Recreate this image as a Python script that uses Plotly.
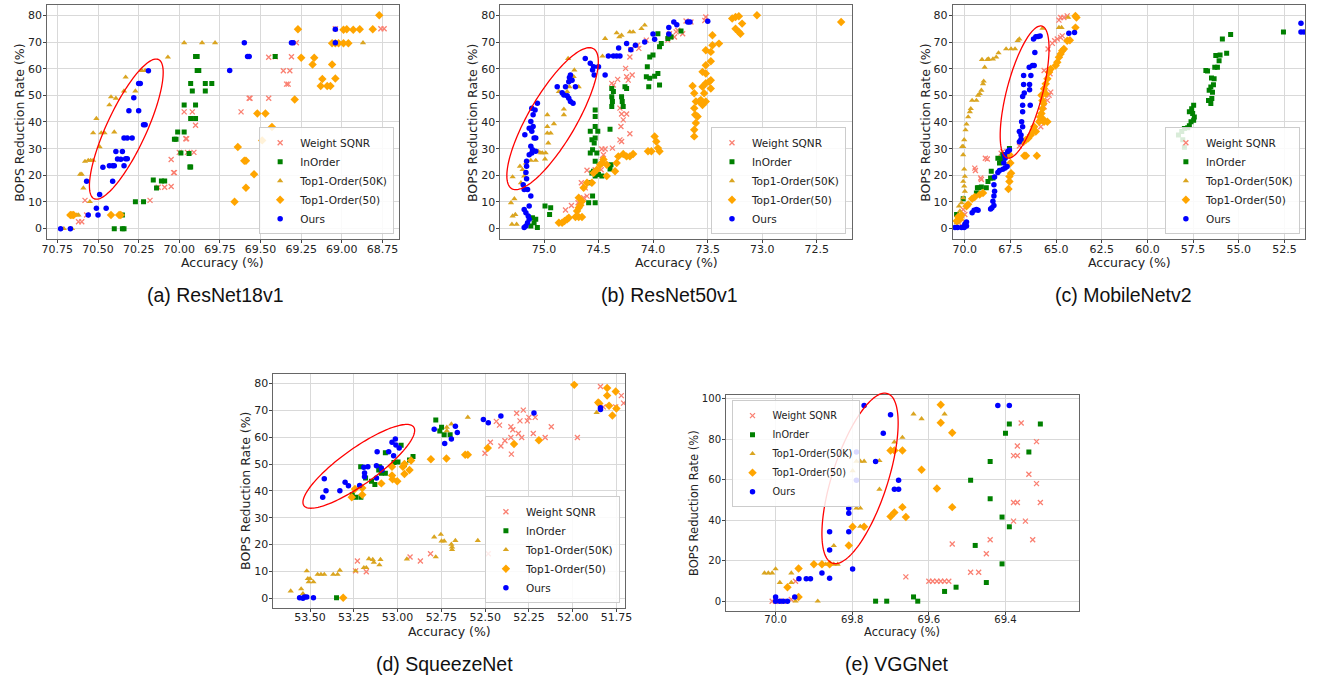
import math
import plotly.graph_objects as go

W, H = 1325, 680

SERIES = ["Weight SQNR", "InOrder", "Top1-Order(50K)", "Top1-Order(50)", "Ours"]

# ---------------- (a) ResNet18v1 : (accuracy %, BOPS reduction %) ----------------
A_SQNR = [(70.62,2.6),(70.60,2.6),(70.58,10.6),(70.57,5.1),(70.18,10.6),(70.13,15.5),(70.09,15.5),(70.05,15.8),
          (70.05,25.9),(70.035,21.0),(70.03,21.0),(70.00,28.6),(69.95,28.6),(69.91,28.6),(69.96,33.7),(69.955,33.7),
          (69.97,43.8),(69.92,43.8),(69.90,38.8),(69.62,43.8),(69.57,48.9),(69.565,48.9),(69.45,48.9),(69.45,64.3),
          (69.41,64.5),(69.31,64.5),(69.36,59.2),(69.32,59.2),(69.34,54.2),(69.33,54.2),(69.28,69.7),(69.04,75.0),
          (68.76,75.0),(68.74,75.0)]
A_INORDER = [(70.40,0),(70.35,0),(70.34,0),(70.35,5.1),(70.27,10.1),(70.22,10.1),(70.16,18.2),(70.14,15.2),
             (70.11,17.9),(70.09,17.9),(70.03,33.5),(70.02,33.5),(70.01,36.2),(69.99,28.4),(69.97,36.2),(69.97,46.4),
             (69.94,28.2),(69.935,23.1),(69.93,23.1),(69.93,54.4),(69.92,51.6),(69.93,41.3),(69.90,41.3),(69.90,46.4),
             (69.90,64.6),(69.89,64.6),(69.89,59.3),(69.88,59.3),(69.84,54.4),(69.84,51.6),(69.80,54.4),(69.41,64.6)]
A_T50K = [(70.71,0),(70.66,0),(70.67,5.1),(70.65,5.1),(70.63,5.1),(70.62,5.1),(70.61,20.4),(70.60,20.4),
          (70.59,15.2),(70.58,25.2),(70.56,25.6),(70.545,25.6),(70.53,25.6),(70.55,10.1),(70.53,35.9),(70.51,41.3),
          (70.49,30.7),(70.48,35.9),(70.46,35.9),(70.43,46.4),(70.42,49.4),(70.40,36.2),(70.39,48.9),(70.34,51.6),
          (70.33,56.8),(70.27,51.6),(70.23,59.3),(70.21,59.3),(70.07,64.3),(69.97,69.7),(69.86,69.7),(69.78,69.7),
          (68.87,69.7)]
A_T50 = [(70.67,5.1),(70.66,5.1),(70.65,5.1),(70.42,5.1),(70.37,5.1),(70.36,5.1),(69.66,10.1),(69.64,30.6),
         (69.60,25.5),(69.59,25.5),(69.59,15.3),(69.54,20.4),(69.52,43.2),(69.47,43.2),(69.49,33.1),(69.43,38.1),
         (69.29,48.4),(69.27,74.8),(69.25,64.1),(69.18,61.6),(69.17,64.1),(69.12,56.1),(69.13,53.5),(69.09,53.5),
         (69.07,53.5),(69.06,61.6),(69.04,56.3),(69.06,69.5),(69.04,69.5),(69.02,69.5),(68.99,69.5),(68.96,69.5),
         (68.99,74.6),(68.97,74.8),(68.93,74.6),(68.89,74.8),(68.81,74.8),(68.77,80.0)]
A_OURS = [(70.73,0),(70.67,0),(70.56,5.1),(70.57,17.8),(70.50,5.1),(70.51,7.6),(70.49,12.8),(70.47,23.0),
          (70.45,7.6),(70.43,23.6),(70.41,23.6),(70.40,23.6),(70.41,17.8),(70.39,28.9),(70.38,26.1),(70.36,26.0),
          (70.35,28.9),(70.34,23.6),(70.34,34.0),(70.32,34.0),(70.29,34.0),(70.33,26.2),(70.32,26.2),(70.31,44.2),
          (70.28,49.1),(70.25,54.4),(70.24,54.4),(70.25,44.2),(70.22,39.0),(70.21,39.0),(70.19,59.2),(69.69,59.3),
          (69.60,69.7),(69.58,64.6),(69.57,64.6),(69.31,69.7),(69.30,69.7),(69.04,74.8),(69.04,69.7)]

# ---------------- (b) ResNet50v1 ----------------
B_SQNR = [(74.803,7.0),(74.749,8.7),(74.688,9.7),(74.637,11.6),(74.606,12.2),(74.622,15.3),(74.658,17.2),
          (74.606,21.9),(74.531,22.1),(74.476,22.1),(74.464,25.9),(74.455,27.7),(74.440,29.9),(74.470,29.9),
          (74.373,30.2),(74.304,33.3),(74.289,32.7),(74.213,35.6),(74.295,38.3),(74.274,40.8),(74.289,43.0),
          (74.243,43.0),(74.304,45.2),(74.364,53.9),(74.379,54.5),(74.325,56.0),(74.243,57.0),(74.228,55.7),
          (74.192,57.6),(74.252,60.1),(74.213,64.4),(74.204,67.2),(74.143,68.8),(74.131,67.6),(74.062,70.7),
          (73.850,73.1),(73.865,70.7),(73.804,71.9),(73.789,73.8),(73.774,74.4),(73.729,73.1),(73.698,77.9),
          (73.653,77.5),(73.526,78.1),(73.517,79.4)]
B_INORDER = [(75.106,4.1),(75.076,3.5),(75.061,0.4),(75.121,1.0),(75.091,2.2),(74.991,8.5),(74.939,7.8),
             (74.949,5.3),(74.591,9.7),(74.531,9.7),(74.555,12.2),(74.576,17.2),(74.531,19.7),(74.501,20.3),
             (74.470,19.7),(74.561,20.9),(74.546,21.5),(74.386,24.0),(74.395,22.4),(74.531,25.3),(74.576,28.4),
             (74.516,28.4),(74.555,29.6),(74.540,32.1),(74.561,33.3),(74.531,34.0),(74.576,36.5),(74.507,36.5),
             (74.531,38.3),(74.531,42.1),(74.531,44.5),(74.395,37.3),(74.379,45.8),(74.373,47.7),(74.379,49.5),
             (74.289,49.5),(74.283,47.7),(74.274,45.8),(74.243,52.6),(74.258,53.2),(74.379,52.6),(74.364,51.4),
             (74.053,60.7),(74.062,57.0),(74.031,56.4),(74.040,53.2),(73.986,57.2),(73.956,58.2),(73.941,53.9),
             (74.031,64.4),(74.001,65.1),(73.941,68.2),(73.925,69.4),(73.865,71.3),(73.835,71.9),(73.956,73.1),
             (73.856,72.5),(73.744,74.1)]
B_T50K = [(75.294,1.6),(75.251,1.6),(75.288,4.7),(75.263,5.3),(75.303,9.7),(75.272,11.2),(75.288,19.4),
          (75.221,23.4),(75.197,22.1),(75.212,17.2),(75.182,19.7),(75.166,24.6),(75.121,25.6),(75.076,25.6),
          (75.051,28.9),(75.030,28.4),(75.015,28.4),(74.991,26.1),(74.985,28.4),(74.961,32.1),(74.970,35.8),
          (74.939,35.8),(74.970,38.3),(74.909,39.3),(74.970,42.7),(74.818,42.7),(74.818,44.8),(74.864,51.4),
          (74.788,51.4),(74.767,53.2),(74.758,56.4),(74.728,57.0),(74.682,53.2),(74.722,59.5),(74.779,63.8),
          (74.464,64.7),(74.440,71.3),(74.334,73.4),(74.310,71.9),(74.289,72.5),(74.213,73.8),(74.183,73.8),
          (74.107,75.0),(74.077,76.3)]
B_T50 = [(74.864,2.2),(74.834,2.2),(74.812,2.9),(74.788,3.5),(74.773,4.1),(74.712,4.4),(74.682,4.4),(74.652,4.4),
         (74.697,6.6),(74.682,7.8),(74.667,8.8),(74.652,10.3),(74.682,11.6),(74.637,15.3),(74.606,17.2),
         (74.561,17.2),(74.546,20.9),(74.516,22.1),(74.485,24.0),(74.470,24.6),(74.455,25.9),(74.425,24.0),
         (74.425,19.7),(74.349,21.5),(74.334,24.6),(74.319,27.1),(74.274,28.0),(74.243,27.1),(74.213,27.1),
         (74.183,28.0),(74.047,29.0),(74.016,29.0),(73.986,34.6),(73.971,32.7),(73.956,30.2),(73.941,29.0),
         (73.638,53.5),(73.623,50.8),(73.608,47.7),(73.623,45.2),(73.614,42.7),(73.608,39.6),(73.623,37.1),
         (73.623,34.6),(73.592,42.1),(73.577,47.7),(73.547,46.4),(73.517,47.7),(73.562,48.3),(73.532,50.8),
         (73.547,53.2),(73.517,54.5),(73.486,55.1),(73.517,58.2),(73.547,58.8),(73.517,61.3),(73.517,66.9),
         (73.471,66.3),(73.471,62.8),(73.471,55.7),(73.471,52.6),(73.456,68.8),(73.456,72.5),(73.396,69.4),
         (73.275,78.8),(73.244,79.4),(73.214,79.7),(73.244,75.0),(73.214,73.8),(73.199,73.1),(73.184,76.9),
         (73.048,80.0),(72.276,77.5)]
B_OURS = [(75.182,0.4),(75.166,1.0),(75.151,2.2),(75.136,3.5),(75.145,4.7),(75.166,6.0),(75.182,7.2),(75.136,8.5),
          (75.121,12.2),(75.151,14.7),(75.182,14.7),(75.191,16.5),(75.160,18.7),(75.166,21.1),(75.160,23.4),
          (75.160,25.3),(75.136,27.7),(75.112,28.4),(75.106,29.6),(75.076,29.0),(75.121,30.9),(75.091,34.0),
          (75.076,34.0),(75.112,36.5),(75.136,37.7),(75.176,35.2),(75.100,38.3),(75.121,40.2),(75.100,42.7),
          (75.082,44.5),(75.112,45.2),(75.061,47.0),(74.879,53.2),(74.834,51.0),(74.803,53.2),(74.818,50.1),
          (74.788,49.8),(74.773,48.9),(74.758,47.7),(74.734,47.0),(74.773,55.1),(74.758,57.6),(74.743,55.7),
          (74.712,53.2),(74.767,56.7),(74.622,63.8),(74.576,62.0),(74.546,60.7),(74.501,60.7),(74.555,59.5),
          (74.540,57.6),(74.440,57.6),(74.410,64.8),(74.364,64.8),(74.334,64.8),(74.304,64.8),(74.316,67.8),
          (74.243,69.4),(74.204,67.1),(74.162,68.8),(74.077,70.0),(74.001,73.0),(73.986,71.0),(73.856,73.0),
          (73.856,75.4),(73.810,77.5),(73.783,76.5),(73.683,77.5),(73.662,77.5),(73.499,77.8)]

# ---------------- (c) MobileNetv2 ----------------
C_SQNR = [(70.325,2.2),(70.181,3.5),(70.0,5.3),(70.090,7.2),(69.458,22.7),(69.421,21.8),(69.132,19.0),(69.096,18.4),
          (68.879,26.4),(68.771,26.1),(68.011,28.3),(67.921,28.9),(67.017,31.0),(66.926,32.0),(65.842,38.2),
          (65.751,40.7),(65.661,45.7),(65.480,48.1),(65.390,50.0),(65.299,51.2),(65.625,52.5),(65.661,59.3),
          (65.335,58.1),(65.444,67.4),(65.209,69.5),(65.082,70.5),(64.938,71.1),(64.757,71.7),(64.666,72.3),
          (64.847,78.2),(64.757,79.2),(64.576,79.2),(64.395,79.8)]
C_INORDER = [(70.452,5.3),(70.090,11.2),(69.367,13.4),(69.313,15.3),(69.241,15.3),(69.096,15.6),(68.825,15.3),
             (68.734,17.7),(68.590,19.0),(68.463,19.0),(68.554,21.5),(68.102,24.6),(68.011,26.1),(68.192,26.4),
             (67.921,27.7),(67.559,30.1),(58.302,35.1),(58.121,36.4),(57.977,37.6),(57.796,37.8),(57.706,38.6),
             (57.615,40.1),(57.525,43.2),(57.706,43.8),(57.579,45.0),(57.471,46.3),(58.067,33.3),(57.977,30.5),
             (57.471,40.7),(57.434,41.9),(56.657,48.1),(56.621,51.9),(56.530,53.1),(56.386,54.0),(56.440,51.2),
             (56.350,56.2),(56.494,56.5),(56.530,46.9),(56.476,48.8),(56.802,59.3),(56.711,59.1),(56.314,60.5),
             (56.169,60.5),(56.259,64.9),(56.024,65.1),(56.078,63.0),(55.898,71.1),(55.663,65.8),(55.446,72.8),
             (52.553,73.8)]
C_T50K = [(70.452,2.2),(70.325,2.9),(70.217,3.5),(70.362,4.7),(70.271,6.6),(70.325,8.4),(70.181,9.7),(70.090,11.5),
          (70.0,14.0),(70.036,15.9),(70.090,17.7),(70.0,19.6),(70.036,22.3),(70.090,27.7),(70.090,30.8),(70.036,33.3),
          (70.145,30.8),(69.964,37.0),(69.910,39.2),(69.819,41.9),(69.729,43.8),(69.675,45.0),(69.602,48.1),
          (69.367,48.1),(69.277,50.0),(69.186,50.6),(69.096,51.9),(69.006,54.3),(68.969,55.3),(68.915,60.5),
          (69.060,63.4),(68.771,63.4),(68.698,63.6),(68.463,63.6),(68.282,64.3),(68.156,65.9),(67.740,67.4),
          (67.469,67.4),(67.252,67.4),(67.107,70.5),(67.017,71.1),(65.751,75.1),(64.847,75.4),(64.702,75.4),
          (64.34,79.2)]
C_T50 = [(70.452,2.9),(70.271,3.5),(70.362,4.5),(70.181,5.0),(69.910,8.4),(69.819,9.1),(69.602,11.2),(69.458,11.9),
         (69.186,12.8),(69.006,13.4),(67.613,14.9),(67.559,17.7),(67.559,19.6),(67.469,20.8),(67.505,24.6),
         (67.559,27.7),(66.746,27.3),(66.655,27.3),(66.058,27.3),(66.782,32.6),(66.655,33.3),(66.529,33.9),
         (66.384,35.1),(66.239,37.0),(66.113,36.4),(66.203,38.2),(65.932,40.1),(65.842,40.7),(65.751,41.3),
         (65.661,40.1),(65.480,40.1),(65.878,41.9),(65.806,43.2),(65.751,45.0),(65.697,46.9),(65.751,48.1),
         (65.806,50.0),(65.570,50.6),(65.661,52.5),(65.570,54.3),(65.480,56.2),(65.390,58.7),(65.299,59.9),
         (65.028,61.2),(64.938,62.4),(64.847,64.3),(64.757,65.5),(64.666,66.7),(64.576,67.4),(64.395,70.5),
         (64.250,70.7),(63.943,75.4),(63.889,79.2),(63.943,79.8)]
C_OURS = [(70.542,0.4),(70.398,0.4),(70.181,0.4),(70.036,0.4),(70.0,1.6),(69.910,1.0),(69.910,2.5),(69.602,6.0),
          (69.494,6.9),(69.367,7.2),(69.277,6.9),(68.590,7.4),(68.517,7.8),(68.409,8.7),(68.463,10.3),(68.409,12.2),
          (68.373,14.0),(68.409,16.5),(68.373,19.4),(68.192,21.1),(68.102,21.8),(67.921,22.3),(67.794,22.7),
          (67.686,23.3),(67.867,24.6),(67.794,26.4),(67.830,27.7),(67.650,28.9),(67.559,29.5),(67.017,32.6),
          (66.926,33.5),(66.926,35.1),(67.017,36.4),(66.836,38.2),(66.890,40.1),(66.836,43.8),(66.836,46.3),
          (66.420,46.3),(66.836,49.6),(66.746,50.9),(66.456,52.1),(66.456,54.1),(66.782,54.1),(66.782,57.4),
          (66.384,57.4),(66.294,61.2),(66.474,60.5),(66.203,61.2),(66.167,66.1),(66.239,71.1),(66.113,72.0),
          (65.986,72.1),(65.878,72.3),(64.305,73.3),(63.997,73.6),(51.594,77.0),(51.594,73.8),(51.431,73.8)]

# ---------------- (d) SqueezeNet ----------------
D_SQNR = [(53.230,13.9),(53.240,10.2),(53.179,9.9),(52.929,15.4),(52.870,13.9),(52.812,16.6),(52.482,16.6),
          (52.501,54.0),(52.470,58.1),(52.436,65.9),(52.418,64.5),(52.410,56.7),(52.387,58.7),(52.353,63.9),
          (52.353,59.9),(52.350,53.7),(52.342,62.8),(52.320,68.9),(52.310,61.4),(52.301,66.1),(52.291,59.9),
          (52.282,70.1),(52.259,66.1),(52.250,67.4),(52.225,61.4),(52.214,67.4),(52.157,59.9),(52.122,63.9),
          (51.973,59.9),(51.841,78.9),(51.825,71.3),(51.754,71.3),(51.722,75.5),(51.709,72.7)]
D_INORDER = [(53.349,0.2),(53.259,38.6),(53.240,37.6),(53.210,37.6),(53.211,49.0),(53.183,44.8),(53.149,43.6),
             (53.130,42.4),(53.108,47.8),(53.104,49.0),(53.093,46.6),(53.070,54.2),(53.070,46.6),(53.021,50.6),
             (52.998,50.8),(52.980,57.0),(52.961,49.8),(52.932,51.5),(52.912,52.8),(52.782,66.4),(52.759,62.3),
             (52.749,63.7),(52.734,60.9),(52.700,60.9)]
D_T50K = [(53.611,2.7),(53.551,3.5),(53.541,1.7),(53.519,10.2),(53.513,7.3),(53.508,6.1),(53.5,7.3),(53.481,6.1),
          (53.457,8.9),(53.438,8.9),(53.419,8.9),(53.368,8.9),(53.343,8.9),(53.330,10.4),(53.240,10.2),
          (53.193,11.4),(53.179,11.4),(53.164,14.7),(53.142,14.4),(53.136,13.4),(53.098,14.4),(53.104,12.4),
          (52.947,14.6),(52.791,22.8),(52.782,15.4),(52.753,23.8),(52.749,21.3),(52.734,21.3),(52.693,20.1),
          (52.689,19.1),(52.689,18.1),(52.670,21.5),(52.542,21.5),(52.719,62.4),(52.719,63.7),(52.693,64.9),
          (52.599,67.4),(51.863,69.2)]
D_T50 = [(53.311,0.2),(53.262,37.6),(53.244,40.7),(53.202,38.6),(53.202,41.1),(53.093,42.8),(53.032,49.0),
         (53.032,45.7),(53.029,44.3),(53.002,43.6),(52.970,49.0),(52.961,46.3),(52.961,50.0),(52.932,47.8),
         (52.923,51.3),(52.810,51.8),(52.721,52.1),(52.614,53.5),(52.599,53.5),(52.485,56.0),(52.335,57.5),
         (52.193,58.9),(51.991,79.5),(51.854,72.9),(51.848,72.6),(51.803,75.5),(51.803,78.3),(51.792,71.7),
         (51.773,68.1),(51.754,77.0),(51.750,70.7)]
D_OURS = [(53.560,0.2),(53.541,0),(53.532,0.5),(53.519,0.5),(53.481,0.2),(53.428,37.6),(53.419,44.5),(53.409,40.1),
          (53.330,40.1),(53.300,43.2),(53.281,41.9),(53.217,42.0),(53.193,48.8),(53.189,45.3),(53.189,46.7),
          (53.170,49.0),(53.121,44.8),(53.121,49.4),(53.117,54.6),(53.093,48.5),(53.089,47.8),(53.051,54.6),
          (53.032,58.1),(53.023,53.1),(53.013,59.3),(53.010,57.1),(52.991,56.0),(52.791,63.0),(52.731,57.7),
          (52.693,59.3),(52.670,64.1),(52.659,61.8),(52.510,66.6),(52.482,65.4),(52.410,67.9),(52.221,69.0),
          (51.841,71.0),(51.841,70.3)]

# ---------------- (e) VGGNet ----------------
E_SQNR = [(70.009,0),(70.0,0),(69.989,0),(69.980,0),(69.959,0.8),(69.948,9.8),(69.660,12.0),(69.600,9.8),
          (69.590,9.8),(69.579,9.8),(69.569,9.8),(69.559,9.8),(69.548,9.8),(69.539,28.2),(69.491,14.3),(69.470,14.3),
          (69.450,23.4),(69.440,30.3),(69.379,39.5),(69.379,48.7),(69.369,48.7),(69.379,71.8),(69.369,71.8),
          (69.369,76.6),(69.359,87.9),(69.348,39.5),(69.339,62.6),(69.329,30.3),(69.319,78.7),(69.319,58.0),
          (69.309,48.7)]
E_INORDER = [(69.739,0),(69.710,0),(69.640,2.1),(69.629,0),(69.559,4.8),(69.529,6.9),(69.491,59.7),(69.479,27.5),
             (69.450,9.2),(69.440,68.9),(69.440,50.5),(69.409,18.4),(69.409,41.5),(69.400,82.8),(69.390,87.4),
             (69.390,36.7),(69.339,73.6),(69.309,87.4)]
E_T50K = [(70.029,13.9),(70.019,13.9),(70.009,13.9),(70.0,15.9),(69.989,9.2),(69.959,13.9),(69.959,9.2),(69.948,0),
          (69.890,0),(69.869,18.2),(69.848,27.4),(69.848,18.2),(69.838,18.2),(69.799,64.3),(69.789,69.0),(69.779,69.0),
          (69.769,69.0),(69.789,45.9),(69.779,45.9),(69.779,36.9),(69.769,36.9),(69.729,69.3),(69.729,55.2),
          (69.690,78.5),(69.669,80.8),(69.640,92.3),(69.619,90.0),(69.559,92.3)]
E_T50 = [(69.969,6.9),(69.940,16.1),(69.940,2.1),(69.900,18.2),(69.879,18.2),(69.859,18.2),(69.809,27.5),
         (69.799,36.7),(69.769,36.7),(69.700,74.3),(69.690,74.3),(69.690,43.8),(69.700,41.8),(69.669,74.3),
         (69.669,46.4),(69.660,41.5),(69.619,64.8),(69.579,55.6),(69.569,96.9),(69.569,88.0),(69.539,83.1),
         (69.539,46.4)]
E_OURS = [(70.0,2.1),(70.0,0),(69.989,0),(69.980,0),(69.969,0),(69.950,2.1),(69.939,11.1),(69.920,11.1),
          (69.909,11.1),(69.879,13.9),(69.859,11.3),(69.859,25.2),(69.859,34.3),(69.809,45.9),(69.809,43.4),
          (69.809,34.3),(69.799,15.9),(69.789,73.6),(69.789,59.7),(69.769,96.6),(69.739,68.9),(69.719,82.8),
          (69.700,92.0),(69.690,55.2),(69.679,55.2),(69.679,59.7),(69.420,96.6),(69.390,96.6)]

CAPTIONS = ["(a) ResNet18v1", "(b) ResNet50v1", "(c) MobileNetv2", "(d) SqueezeNet", "(e) VGGNet"]
X_TICKS = [[70.75, 70.50, 70.25, 70.00, 69.75, 69.50, 69.25, 69.00, 68.75],
           [75.0, 74.5, 74.0, 73.5, 73.0, 72.5],
           [70.0, 67.5, 65.0, 62.5, 60.0, 57.5, 55.0, 52.5],
           [53.50, 53.25, 53.00, 52.75, 52.50, 52.25, 52.00, 51.75],
           [70.0, 69.8, 69.6, 69.4]]
Y_TICKS = [[0, 10, 20, 30, 40, 50, 60, 70, 80]] * 4 + [[0, 20, 40, 60, 80, 100]]

# ---------------- styling / layout (pixels in the 1325x680 canvas) ----------------
STYLE = {
    "Weight SQNR": dict(symbol="x-thin", size=5, color="#FA8072"),
    "InOrder": dict(symbol="square", size=5, color="#008000"),
    "Top1-Order(50K)": dict(symbol="triangle-up", size=5.5, color="#DAA520"),
    "Top1-Order(50)": dict(symbol="diamond", size=6.5, color="#FFA500"),
    "Ours": dict(symbol="circle", size=5.5, color="#0000FF"),
}

PANELS = [
    dict(data=[A_SQNR, A_INORDER, A_T50K, A_T50, A_OURS], box=(41.7, 2.7, 397.3, 238.0),
         xr=[70.812, 68.646], yr=[-4.0, 84.0], fmt=".2f", fs=1.0,
         leg=dict(x=392, y=233, xa="right", ya="bottom"),
         ytitle=(13.3, 121), xtitle=(219, 261), cap=(212, 294),
         ell=(121.5, 127.5, 77, 20, 65)),
    dict(data=[B_SQNR, B_INORDER, B_T50K, B_T50, B_OURS], box=(499.3, 2.7, 854.0, 238.0),
         xr=[75.40, 72.18], yr=[-4.0, 84.0], fmt=".1f", fs=1.0,
         leg=dict(x=848.3, y=233, xa="right", ya="bottom"),
         ytitle=(471, 121), xtitle=(676.7, 261), cap=(670, 294),
         ell=(552, 117, 81.4, 24, 59.5)),
    dict(data=[C_SQNR, C_INORDER, C_T50K, C_T50, C_OURS], box=(956.0, 2.7, 1312.3, 238.0),
         xr=[70.67, 51.35], yr=[-4.0, 84.0], fmt=".1f", fs=1.0,
         leg=dict(x=1306.7, y=233, xa="right", ya="bottom"),
         ytitle=(928.3, 121), xtitle=(1134.3, 261), cap=(1129, 294),
         ell=(1028.7, 90.3, 68.4, 18, 75.2)),
    dict(data=[D_SQNR, D_INORDER, D_T50K, D_T50, D_OURS], box=(270.0, 372.7, 625.3, 608.0),
         xr=[53.71, 51.70], yr=[-3.7, 83.7], fmt=".2f", fs=1.0,
         leg=dict(x=620, y=603, xa="right", ya="bottom"),
         ytitle=(241.7, 490), xtitle=(447.7, 631), cap=(442.5, 664),
         ell=(356.3, 465.7, 68, 18, 35.4)),
    dict(data=[E_SQNR, E_INORDER, E_T50K, E_T50, E_OURS], box=(727.3, 394.0, 1083.3, 610.7),
         xr=[70.129, 69.209], yr=[-4.8, 101.8], fmt=".1f", fs=0.92,
         leg=dict(x=732.7, y=399.3, xa="left", ya="top"),
         ytitle=(694.3, 502), xtitle=(905.3, 632), cap=(900, 664),
         ell=(862.5, 477.8, 89.5, 28, 71.9)),
]

CAP_FONT = dict(family="Liberation Sans, Arial, sans-serif", size=19.5, color="#111111")


def px(x):
    return x / W


def py(y):
    return 1 - y / H


fig = go.Figure()
annotations = []
shapes = []
layout = dict(width=W, height=H, margin=dict(l=0, r=0, t=0, b=0),
              paper_bgcolor="white", plot_bgcolor="white", showlegend=True)

for i, p in enumerate(PANELS, start=1):
    sfx = "" if i == 1 else str(i)
    xa, ya, lg = "x" + sfx, "y" + sfx, "legend" + sfx
    fs = p["fs"]
    tick_font = dict(family="DejaVu Sans", size=11 * fs, color="#222222")
    title_font = dict(family="DejaVu Sans", size=12.5 * fs, color="#222222")
    for name, pts in zip(SERIES, p["data"]):
        st = STYLE[name]
        if st["symbol"] == "x-thin":
            marker = dict(symbol="x-thin", size=st["size"], color=st["color"],
                          line=dict(width=1.3, color=st["color"]))
        else:
            marker = dict(symbol=st["symbol"], size=st["size"], color=st["color"], line=dict(width=0))
        fig.add_trace(go.Scatter(x=[q[0] for q in pts], y=[q[1] for q in pts], mode="markers",
                                 name=name, marker=marker, xaxis=xa, yaxis=ya, legend=lg,
                                 hoverinfo="x+y+name"))
    x0, y0, x1, y1 = p["box"]
    common = dict(showline=True, linecolor="#666666", linewidth=1, mirror=True,
                  showgrid=True, gridcolor="#d9d9d9", gridwidth=1, zeroline=False,
                  ticks="outside", ticklen=3, tickwidth=1, tickcolor="#444444",
                  tickfont=tick_font, fixedrange=True)
    layout["xaxis" + sfx] = dict(domain=[px(x0), px(x1)], range=p["xr"], anchor=ya,
                                 tickvals=X_TICKS[i - 1], tickformat=p["fmt"],
                                 ticklabelstandoff=-4, **common)
    layout["yaxis" + sfx] = dict(domain=[py(y1), py(y0)], range=p["yr"], anchor=xa,
                                 tickvals=Y_TICKS[i - 1], tickformat="d",
                                 ticklabelstandoff=-1, **common)
    lgd = p["leg"]
    layout["legend" + sfx] = dict(x=px(lgd["x"]), y=py(lgd["y"]), xanchor=lgd["xa"], yanchor=lgd["ya"],
                                  bgcolor="rgba(255,255,255,0.85)", bordercolor="#cccccc", borderwidth=1,
                                  font=dict(family="DejaVu Sans", size=10.5 * fs, color="#222222"),
                                  tracegroupgap=0, itemwidth=30)
    annotations.append(dict(text="Accuracy (%)", x=px(p["xtitle"][0]), y=py(p["xtitle"][1]),
                            xref="paper", yref="paper", showarrow=False, font=title_font,
                            xanchor="center", yanchor="middle"))
    annotations.append(dict(text="BOPS Reduction Rate (%)", x=px(p["ytitle"][0]), y=py(p["ytitle"][1]),
                            xref="paper", yref="paper", showarrow=False, font=title_font, textangle=-90,
                            xanchor="center", yanchor="middle"))
    annotations.append(dict(text=CAPTIONS[i - 1], x=px(p["cap"][0]), y=py(p["cap"][1]),
                            xref="paper", yref="paper", showarrow=False, font=CAP_FONT,
                            xanchor="center", yanchor="middle"))
    cx, cy, ea, eb, th = p["ell"]
    t = math.radians(th)
    pts = []
    for k in range(145):
        u = 2 * math.pi * k / 144
        ex = cx + ea * math.cos(u) * math.cos(t) + eb * math.sin(u) * math.sin(t)
        ey = cy - ea * math.cos(u) * math.sin(t) + eb * math.sin(u) * math.cos(t)
        pts.append((px(ex), py(ey)))
    path = "M " + " L ".join(f"{a:.5f},{b:.5f}" for a, b in pts) + " Z"
    shapes.append(dict(type="path", path=path, xref="paper", yref="paper",
                       line=dict(color="#ff0000", width=1.3), fillcolor="rgba(0,0,0,0)"))

layout["annotations"] = annotations
layout["shapes"] = shapes
fig.update_layout(**layout)

fig.write_html("out.html", config={"displayModeBar": False},
               post_script="document.body.style.margin='0';document.body.style.overflow='hidden';")
